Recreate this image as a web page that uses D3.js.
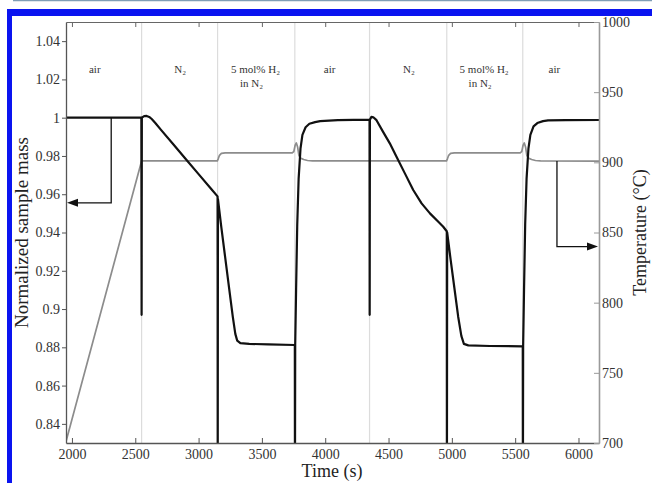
<!DOCTYPE html>
<html>
<head>
<meta charset="utf-8">
<script src="https://cdn.jsdelivr.net/npm/d3@7/dist/d3.min.js"></script>
<style>
  html, body { margin: 0; padding: 0; background: #fff; }
  svg { display: block; }
  text { font-family: "Liberation Serif", "Times New Roman", serif; }
</style>
</head>
<body>
<svg id="chart" width="652" height="483"></svg>
<script>
// ---------------- DATA ----------------
const timeTicks = [2000, 2500, 3000, 3500, 4000, 4500, 5000, 5500, 6000];
const massTicks = [0.84, 0.86, 0.88, 0.90, 0.92, 0.94, 0.96, 0.98, 1.00, 1.02, 1.04];
const massTickLabels = ["0.84", "0.86", "0.88", "0.9", "0.92", "0.94", "0.96", "0.98", "1", "1.02", "1.04"];
const tempTicks = [700, 750, 800, 850, 900, 950, 1000];

// gas switching times (s)
const switchTimes = [2550, 3150, 3760, 4350, 4960, 5560];

// phase labels
const phaseLabels = [
  { t: 2180, lines: ["air"] },
  { t: 2855, lines: ["N\u2082"] },
  { t: 3449, lines: ["5 mol% H\u2082", "in N\u2082"] },
  { t: 4035, lines: ["air"] },
  { t: 4661, lines: ["N\u2082"] },
  { t: 5255, lines: ["5 mol% H\u2082", "in N\u2082"] },
  { t: 5810, lines: ["air"] }
];

// normalized sample mass (black) : time (s), value
const massTime = [
  1953, 2548, 2550, 2552, 2570, 2590, 2610, 2630, 2660, 2705, 2800, 2900, 3000, 3100, 3148,
  3150, 3151, 3153, 3180, 3210, 3240, 3270, 3290, 3305, 3330, 3400, 3550, 3758,
  3760, 3761, 3763, 3770, 3779, 3790, 3805, 3820, 3845, 3875, 3920, 3960, 4100, 4348,
  4350, 4351, 4353, 4365, 4380, 4405, 4457, 4510, 4563, 4629, 4695, 4761, 4827, 4893, 4932, 4958,
  4960, 4961, 4963, 4990, 5020, 5050, 5075, 5095, 5130, 5300, 5558,
  5560, 5561, 5563, 5570, 5579, 5590, 5605, 5620, 5645, 5675, 5720, 5760, 5900, 6162
];
const massValue = [
  1.0000, 1.0000, 0.8970, 1.0000, 1.0008, 1.0009, 1.0004, 0.9993, 0.9971, 0.9935, 0.9861, 0.9783, 0.9705, 0.9627, 0.9590,
  0.9588, 0.8000, 0.9575, 0.9425, 0.9270, 0.9115, 0.8960, 0.8870, 0.8835, 0.8822, 0.8818, 0.8815, 0.8812,
  0.8812, 0.8000, 0.8815, 0.9100, 0.9440, 0.9680, 0.9840, 0.9910, 0.9950, 0.9968, 0.9977, 0.9982, 0.9987, 0.9990,
  0.9990, 0.8970, 0.9990, 1.0004, 1.0002, 0.9987, 0.9926, 0.9866, 0.9796, 0.9709, 0.9622, 0.9552, 0.9500, 0.9456, 0.9430, 0.9408,
  0.9406, 0.8000, 0.9400, 0.9260, 0.9110, 0.8960, 0.8860, 0.8818, 0.8810, 0.8807, 0.8805,
  0.8805, 0.8000, 0.8810, 0.9100, 0.9440, 0.9680, 0.9840, 0.9910, 0.9955, 0.9972, 0.9982, 0.9986, 0.9987, 0.9988
];

// temperature (grey) : time (s), value (°C)
const tempTime = [
  1953, 2550, 2600, 3148, 3155, 3165, 3180, 3210,
  3740, 3752, 3762, 3772, 3782, 3792, 3805, 3830, 3860, 3900,
  4958, 4965, 4975, 4990, 5020,
  5540, 5552, 5562, 5572, 5582, 5592, 5605, 5630, 5660, 5700, 6162
];
const tempValue = [
  701, 901, 901, 901, 902.5, 905, 906.4, 906.8,
  906.8, 907.6, 912, 913.8, 911, 905, 903, 902, 901.3, 901,
  901, 902.5, 905, 906.4, 906.8,
  906.8, 907.6, 912, 913.8, 911, 905, 903, 902, 901.3, 901, 900.8
];

// annotation arrows
const massArrow = { t: 2310, from: 1.0000, to: 0.9555 };   // points to left axis
const tempArrow = { t: 5830, from: 901, to: 840 };          // points to right axis

// ---------------- LAYOUT ----------------
const svg = d3.select("#chart");
const L = 66, R = 599, T = 22, B = 443;

const x = d3.scaleLinear().domain([1953, 6162]).range([L, R]);
const yL = d3.scaleLinear().domain([0.83, 1.05]).range([B, T]);
const yR = d3.scaleLinear().domain([700, 1000]).range([B, T]);

// blue frame of the page
svg.append("line").attr("x1", 13).attr("x2", 652).attr("y1", 0.5).attr("y2", 0.5)
  .attr("stroke", "#7f9db5").attr("stroke-width", 1.5);
svg.append("rect").attr("x", 7).attr("y", 9).attr("width", 645).attr("height", 7).attr("fill", "#0a14f0");
svg.append("rect").attr("x", 7).attr("y", 9).attr("width", 5).attr("height", 474).attr("fill", "#0a14f0");

svg.append("defs").append("clipPath").attr("id", "clip")
  .append("rect").attr("x", L).attr("y", T).attr("width", R - L).attr("height", B - T);

// switch lines
svg.append("g").selectAll("line").data(switchTimes).join("line")
  .attr("x1", d => x(d)).attr("x2", d => x(d)).attr("y1", T).attr("y2", B)
  .attr("stroke", "#dcdcdc").attr("stroke-width", 1.2);

// phase labels
const lab = svg.append("g").attr("font-size", 11).attr("fill", "#333").attr("text-anchor", "middle");
phaseLabels.forEach(p => {
  p.lines.forEach((s, i) => {
    lab.append("text").attr("x", x(p.t) - (i > 0 ? 4 : 0)).attr("y", 73 + i * 14).text(s);
  });
});

// curves
const plot = svg.append("g").attr("clip-path", "url(#clip)");
const tempPts = tempTime.map((t, i) => [t, tempValue[i]]);
const massPts = massTime.map((t, i) => [t, massValue[i]]);

plot.append("path").datum(tempPts)
  .attr("fill", "none").attr("stroke", "#8c8c8c").attr("stroke-width", 1.7)
  .attr("stroke-linejoin", "round")
  .attr("d", d3.line().x(d => x(d[0])).y(d => yR(d[1])));

plot.append("path").datum(massPts)
  .attr("fill", "none").attr("stroke", "#111").attr("stroke-width", 2.2)
  .attr("stroke-linejoin", "round")
  .attr("d", d3.line().x(d => x(d[0])).y(d => yL(d[1])));

// arrows
const arrowG = svg.append("g");
{
  const ax = x(massArrow.t), y0 = yL(massArrow.from), y1 = yL(massArrow.to);
  arrowG.append("path").attr("d", `M${ax},${y0}V${y1}H${L + 10}`)
    .attr("fill", "none").attr("stroke", "#111").attr("stroke-width", 1.3);
  arrowG.append("path").attr("d", `M${L + 1},${y1}L${L + 12},${y1 - 4}L${L + 12},${y1 + 4}Z`).attr("fill", "#111");
}
{
  const ax = x(tempArrow.t), y0 = yR(tempArrow.from), y1 = yR(tempArrow.to);
  arrowG.append("path").attr("d", `M${ax},${y0}V${y1}H${R - 10}`)
    .attr("fill", "none").attr("stroke", "#111").attr("stroke-width", 1.3);
  arrowG.append("path").attr("d", `M${R - 1},${y1}L${R - 12},${y1 - 4}L${R - 12},${y1 + 4}Z`).attr("fill", "#111");
}

// axes
function styleAxis(g, color, w) {
  g.selectAll("path.domain").attr("stroke", color).attr("stroke-width", w);
  g.selectAll(".tick line").attr("stroke", color).attr("stroke-width", 1);
  g.selectAll(".tick text").attr("fill", "#333").attr("font-size", 14)
    .attr("font-family", "Liberation Serif, Times New Roman, serif");
}

const gTop = svg.append("g").attr("transform", `translate(0,${T})`)
  .call(d3.axisTop(x).tickValues(timeTicks).tickSize(-5).tickSizeOuter(0).tickFormat(""));
styleAxis(gTop, "#666", 1.2);

const gBottom = svg.append("g").attr("transform", `translate(0,${B})`)
  .call(d3.axisBottom(x).tickValues(timeTicks).tickSize(-5).tickSizeOuter(0).tickPadding(6).tickFormat(d3.format("d")));
styleAxis(gBottom, "#555", 1.3);

const gLeft = svg.append("g").attr("transform", `translate(${L},0)`)
  .call(d3.axisLeft(yL).tickValues(massTicks).tickSize(4).tickSizeOuter(0).tickPadding(2)
    .tickFormat((d, i) => massTickLabels[i]));
styleAxis(gLeft, "#555", 1.3);

const gRight = svg.append("g").attr("transform", `translate(${R},0)`)
  .call(d3.axisRight(yR).tickValues(tempTicks).tickSize(-5).tickSizeOuter(0).tickPadding(3).tickFormat(d3.format("d")));
styleAxis(gRight, "#9a9a9a", 1.6);

// axis titles
svg.append("text").attr("x", 332).attr("y", 477).attr("text-anchor", "middle")
  .attr("font-size", 18).attr("fill", "#222").text("Time (s)");
svg.append("text").attr("transform", `translate(28,${(T + B) / 2}) rotate(-90)`)
  .attr("text-anchor", "middle").attr("font-size", 19).attr("fill", "#222").text("Normalized sample mass");
svg.append("text").attr("transform", `translate(646,${(T + B) / 2}) rotate(-90)`)
  .attr("text-anchor", "middle").attr("font-size", 18).attr("fill", "#222").text("Temperature (\u00B0C)");
</script>
</body>
</html>
